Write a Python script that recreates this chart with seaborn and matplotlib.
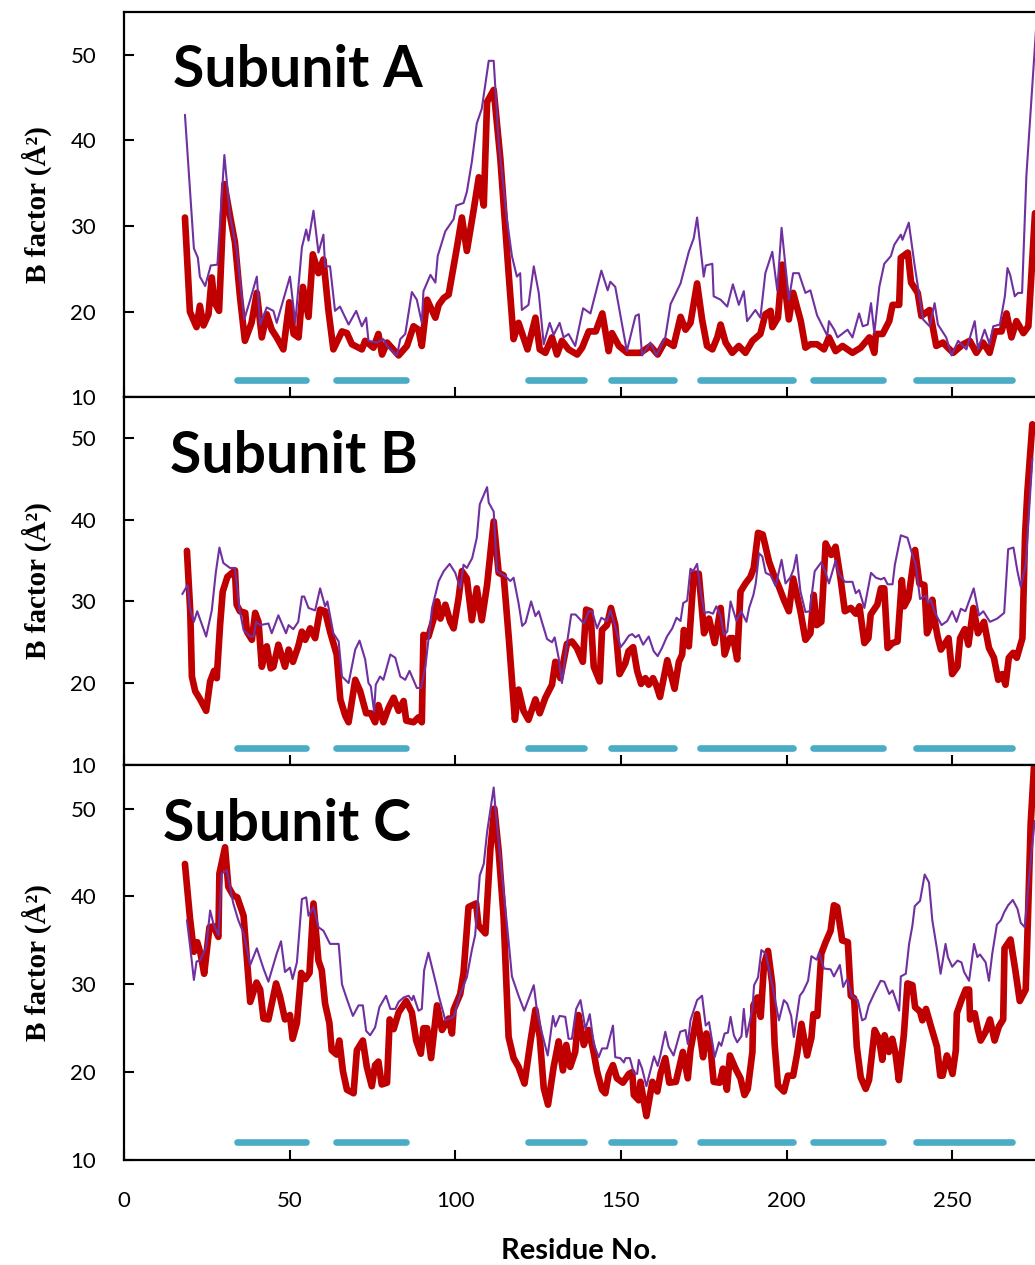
import seaborn as sns
from matplotlib import pyplot as plt

# residue numbers / B factors
# thin purple trace and thick red trace, one pair per subunit
res_a_thin = [18.4, 21.1, 22.3, 22.9, 24.5, 26.2, 28.2, 30.3, 32.0, 34.0, 36.3, 38.1, 40.1, 41.1, 43.1, 45.1, 46.1,
              48.1, 50.1, 51.7, 53.7, 55.0, 55.7, 57.2, 58.7, 60.2, 60.7, 62.2, 63.7, 65.2, 67.8, 70.1, 71.8, 73.1,
              73.8, 76.3, 78.3, 79.4, 82.4, 83.4, 84.9, 86.9, 88.4, 89.9, 90.4, 92.5, 94.0, 94.7, 97.0, 99.5, 100.3,
              102.5, 103.5, 105.0, 106.5, 108.0, 110.1, 111.6, 113.1, 115.6, 117.1, 118.6, 119.6, 120.1, 122.1,
              123.7, 125.2, 126.7, 128.5, 129.7, 131.5, 132.7, 134.2, 136.2, 138.6, 140.8, 144.1, 146.0, 146.8,
              148.3, 151.8, 154.4, 155.4, 156.4, 158.9, 160.7, 163.4, 165.0, 168.0, 170.5, 172.0, 173.0, 175.0,
              175.6, 177.6, 178.0, 180.1, 182.1, 183.8, 185.6, 187.1, 188.1, 190.6, 192.1, 193.6, 195.7, 197.2,
              198.5, 200.7, 202.0, 203.7, 205.7, 207.2, 209.2, 212.3, 212.8, 214.4, 215.4, 218.4, 219.9, 221.9,
              223.0, 224.5, 225.5, 226.5, 228.0, 229.5, 231.5, 232.5, 234.5, 235.0, 236.9, 238.7, 241.2, 243.2,
              244.7, 245.7, 248.2, 249.8, 251.8, 254.3, 256.8, 257.8, 259.8, 261.3, 262.4, 264.4, 265.9, 266.7,
              267.5, 268.9, 269.9, 271.1, 272.4, 274.4, 275.4]
b_a_thin = [43.0, 27.4, 26.3, 24.1, 23.0, 25.4, 25.5, 38.3, 31.2, 27.3, 19.1, 21.4, 24.1, 18.5, 20.5, 20.1, 18.7,
            21.4, 24.1, 18.7, 27.5, 29.6, 28.3, 31.8, 26.9, 29.0, 25.3, 25.3, 20.1, 20.6, 18.5, 20.1, 18.3, 19.3,
            16.6, 16.4, 16.8, 16.0, 14.9, 16.8, 17.4, 22.3, 21.4, 18.7, 22.4, 24.3, 23.4, 26.5, 29.4, 30.8, 32.4,
            32.7, 34.0, 37.5, 42.0, 43.7, 49.3, 49.3, 39.8, 30.8, 26.5, 24.1, 24.5, 20.2, 20.8,
            25.3, 22.2, 16.2, 18.7, 17.3, 18.7, 17.0, 17.4, 16.0, 20.4, 19.8, 24.8, 22.5, 23.5,
            22.9, 15.4, 19.5, 19.7, 14.9, 16.4, 14.9, 17.0, 20.9, 23.3, 27.0, 28.6, 31.0, 24.1,
            25.4, 25.6, 21.8, 21.4, 20.6, 23.2, 20.8, 22.4, 18.9, 20.2, 19.3, 24.5, 27.0, 22.5,
            29.8, 21.4, 24.5, 24.5, 22.2, 22.5, 19.6, 17.2, 18.9, 17.9, 17.0, 17.9, 17.0, 19.8,
            18.3, 18.5, 21.0, 17.5, 22.9, 25.6, 26.5, 27.8, 29.0, 28.4, 30.4, 25.3, 19.1, 18.3,
            21.0, 18.5, 17.0, 14.9, 16.6, 15.6, 18.9, 15.6, 17.9, 16.2, 18.3, 18.5, 21.8, 25.1,
            24.3, 21.8, 22.2, 22.2, 35.9, 47.6, 53.5]

res_a_thick = [18.4, 19.9, 21.9, 22.9, 24.0, 25.5, 26.5, 27.3, 28.7, 30.3, 32.0, 33.5, 35.0, 36.5, 38.5, 40.1, 41.6,
               43.1, 44.6, 46.1, 48.1, 49.9, 51.2, 52.7, 54.0, 55.7, 57.0, 58.7, 60.2, 61.7, 63.2, 65.8, 67.3, 68.8,
               71.8, 72.8, 75.3, 76.8, 77.9, 79.4, 82.9, 85.4, 87.4, 88.9, 89.9, 91.5, 94.0, 95.0, 96.5, 98.0, 99.5,
               100.5, 102.0, 103.5, 105.6, 107.1, 108.6, 109.6, 111.6, 113.6, 116.1, 117.6, 119.1, 120.6, 121.8,
               124.2, 125.5, 127.2, 129.2, 130.7, 132.2, 134.2, 136.8, 138.3, 140.3, 142.4, 144.4, 146.3, 147.3,
               149.4, 151.9, 155.9, 158.9, 161.1, 163.4, 165.9, 168.0, 169.5, 171.0, 173.0, 174.5, 176.0, 177.6,
               179.1, 180.1, 181.6, 183.6, 185.6, 187.6, 189.7, 192.1, 193.6, 195.2, 195.7, 197.4, 198.7, 200.7,
               202.0, 204.3, 205.7, 207.2, 209.2, 211.3, 212.8, 214.8, 216.9, 219.9, 222.4, 225.0, 226.5, 227.0,
               229.0, 231.0, 232.0, 234.0, 234.5, 236.6, 237.6, 239.6, 240.7, 243.2, 245.2, 247.2, 248.7, 250.3,
               253.3, 255.3, 257.3, 259.3, 261.3, 262.9, 264.9, 266.4, 267.9, 269.4, 271.5, 273.0, 275.0]
b_a_thick = [31.0, 20.0, 18.2, 20.7, 18.4, 19.7, 24.0, 21.1, 20.1, 34.9, 31.2, 28.1, 21.8, 16.6, 18.7, 22.2, 17.0,
             19.7, 17.9, 17.0, 15.6, 21.1, 17.4, 17.0, 22.9, 19.4, 26.7, 24.5, 26.1, 20.2, 15.6, 17.7, 17.5, 16.2,
             15.6, 16.6, 15.8, 17.4, 15.0, 16.4, 14.9, 16.0, 18.3, 17.9, 16.0, 21.4, 19.3, 20.8, 21.6, 22.0, 25.3,
             27.5, 31.0, 27.1, 32.0, 35.7, 32.4, 44.5, 45.9, 37.9, 24.5, 16.8, 18.7, 17.0, 15.6,
             19.3, 15.6, 15.2, 17.0, 15.0, 16.6, 15.6, 15.0, 15.8, 17.7, 17.7, 19.8, 15.4, 17.5,
             16.0, 15.2, 15.2, 16.0, 15.0, 16.6, 16.0, 19.4, 17.9, 18.7, 23.3, 19.1, 16.0, 15.6,
             17.0, 18.5, 16.4, 15.2, 16.0, 15.2, 16.6, 17.4, 19.7, 20.1, 18.2, 19.3, 25.5, 19.1,
             22.2, 18.9, 15.8, 16.2, 16.2, 15.6, 17.0, 15.4, 16.0, 15.2, 15.8, 17.0, 15.2, 17.4,
             17.4, 18.9, 20.8, 20.8, 26.3, 26.9, 23.4, 22.2, 19.5, 20.2, 16.0, 16.4, 15.8, 15.2,
             16.2, 16.6, 15.2, 16.4, 15.2, 17.7, 17.7, 19.8, 17.0, 18.9, 17.5, 18.3, 31.5]

res_b_thin = [17.6, 19.2, 19.9, 21.1, 22.1, 24.8, 26.5, 27.7, 28.8, 30.0, 32.0, 33.5, 34.8, 36.1, 38.1, 39.1, 39.9,
              41.1, 43.6, 44.6, 46.6, 48.9, 49.7, 51.1, 52.6, 53.7, 54.4, 55.7, 57.7, 59.2, 60.7, 61.4, 63.2, 64.8,
              65.8, 67.8, 69.8, 71.1, 72.8, 73.8, 74.5, 75.5, 76.0, 77.3, 78.3, 80.4, 81.9, 83.4, 84.9, 86.2, 88.4,
              89.7, 91.0, 93.0, 95.0, 96.5, 98.3, 100.0, 101.5, 102.5, 103.5, 105.1, 106.5, 107.4, 109.6, 110.1,
              111.6, 112.6, 115.1, 116.6, 117.6, 119.1, 120.2, 121.2, 122.9, 124.2, 125.2, 127.7, 129.2, 130.0,
              131.2, 132.2, 133.7, 135.0, 136.3, 138.8, 140.3, 141.3, 142.8, 144.1, 145.8, 146.8, 148.3, 149.9,
              150.9, 152.4, 153.4, 154.4, 155.4, 156.7, 158.4, 159.9, 161.1, 162.4, 163.9, 165.5, 166.8, 168.0,
              168.8, 170.0, 171.0, 171.8, 173.0, 174.0, 175.2, 176.5, 177.8, 178.8, 180.1, 181.1, 182.1, 183.1,
              184.9, 186.3, 187.9, 188.7, 190.0, 190.7, 191.7, 192.7, 193.7, 195.2, 196.7, 197.7, 198.5, 199.7,
              201.1, 202.1, 203.0, 204.2, 205.7, 207.0, 208.5, 210.5, 211.8, 212.8, 214.8, 215.8, 217.6, 219.9,
              220.9, 221.9, 223.5, 225.5, 227.0, 228.5, 229.5, 230.5, 232.0, 232.7, 234.5, 236.5, 238.0, 239.0,
              240.3, 242.1, 242.7, 243.5, 244.8, 246.8, 248.5, 250.0, 251.3, 252.6, 254.0, 256.5, 258.1, 259.4,
              261.4, 263.6, 265.7, 266.9, 268.5, 269.7, 270.7, 272.2, 274.2]
b_b_thin = [30.9, 32.0, 29.2, 27.5, 28.8, 25.7, 28.9, 33.5, 36.6, 34.7, 34.1, 34.1, 29.2, 26.5, 25.7, 25.7, 27.5,
            27.1, 27.3, 26.1, 28.3, 26.1, 27.1, 26.6, 27.5, 30.6, 30.6, 29.2, 28.9, 31.6, 29.4, 30.0, 26.1, 25.1,
            20.8, 20.0, 24.1, 25.2, 22.9, 20.0, 19.6, 16.5, 19.8, 20.8, 20.4, 23.5, 23.1, 20.8, 20.4, 21.5, 19.4,
            19.4, 22.1, 29.2, 32.5, 33.7, 34.6, 33.5, 31.6, 34.5, 34.1, 35.3, 37.8, 41.9, 44.0, 42.1,
            41.0, 33.7, 33.1, 32.5, 32.9, 29.8, 27.0, 27.4, 30.0, 28.2, 28.8, 25.4, 25.0, 25.6,
            23.1, 20.0, 24.8, 28.4, 28.4, 27.3, 28.8, 28.8, 26.7, 28.0, 27.6, 28.9, 26.9, 24.4,
            24.9, 25.8, 26.0, 25.6, 25.9, 24.7, 25.7, 23.9, 23.3, 24.3, 25.7, 26.7, 28.0, 27.6,
            29.8, 30.1, 34.0, 33.7, 34.6, 31.4, 28.6, 28.7, 28.5, 29.4, 28.2, 25.9, 26.3, 30.0,
            27.6, 28.8, 27.5, 29.2, 30.8, 32.2, 35.9, 35.5, 33.5, 33.2, 31.9, 33.7, 35.1, 32.2,
            32.9, 33.9, 35.7, 31.2, 28.7, 28.8, 33.7, 34.8, 33.5, 32.2, 35.0, 33.4, 32.4, 32.4,
            31.0, 31.4, 29.2, 33.5, 32.9, 32.7, 32.9, 32.1, 32.1, 34.5, 38.1, 37.8, 35.7, 34.5,
            30.3, 30.7, 29.8, 30.2, 28.6, 27.1, 27.6, 28.8, 27.5, 29.1, 28.8, 31.6, 28.3, 28.8,
            27.5, 27.9, 28.6, 36.4, 36.6, 33.7, 31.8, 34.5, 47.5]

res_b_thick = [19.0, 20.0, 20.5, 21.5, 23.0, 24.8, 26.0, 27.2, 28.0, 29.0, 29.8, 31.2, 33.5, 34.0, 35.0, 36.6, 37.1,
               38.6, 39.6, 40.6, 41.6, 43.1, 44.3, 45.1, 46.6, 48.6, 49.7, 51.0, 52.6, 53.7, 54.7, 56.2, 57.7, 59.2,
               60.7, 62.2, 64.2, 65.3, 66.8, 67.8, 69.8, 71.3, 73.1, 74.5, 75.8, 76.8, 78.3, 79.9, 81.4, 82.9, 84.4,
               85.2, 87.4, 88.9, 89.9, 90.4, 91.9, 93.5, 94.5, 95.5, 97.0, 98.5, 99.5, 101.0, 102.0, 103.5, 105.0,
               106.5, 108.0, 109.6, 111.6, 113.1, 114.6, 116.2, 118.0, 119.1, 120.6, 122.1, 124.2, 125.5, 127.2,
               129.2, 130.2, 131.7, 133.7, 135.2, 136.7, 138.5, 139.5, 140.8, 141.8, 143.6, 144.3, 145.8, 147.0,
               148.3, 149.6, 151.3, 152.3, 153.7, 154.9, 156.1, 157.4, 158.4, 159.7, 160.7, 161.8, 164.0, 166.2,
               167.5, 168.5, 169.0, 170.5, 172.0, 173.5, 175.1, 176.6, 178.3, 180.1, 181.3, 182.9, 183.9, 185.1,
               186.1, 187.6, 189.1, 190.1, 191.4, 192.8, 194.7, 196.2, 197.7, 199.2, 200.7, 202.0, 204.2, 205.7,
               207.2, 208.2, 209.1, 210.5, 211.8, 213.5, 214.8, 216.3, 217.6, 219.4, 220.9, 222.0, 223.5, 224.7,
               225.4, 227.4, 228.5, 229.5, 230.5, 232.0, 233.5, 234.8, 235.5, 236.8, 237.6, 238.8, 240.1, 241.6,
               242.4, 243.4, 244.0, 244.6, 245.6, 246.6, 247.6, 248.9, 250.0, 251.6, 252.4, 253.8, 254.9, 256.4,
               257.8, 259.6, 261.1, 262.6, 263.9, 265.1, 266.1, 267.1, 268.4, 269.5, 271.2, 272.0, 272.7, 274.2]
b_b_thick = [36.2, 28.8, 20.8, 19.0, 18.0, 16.6, 20.2, 21.5, 20.6, 27.1, 31.2, 33.0, 33.8, 29.6, 28.8, 28.6, 26.3,
             25.3, 28.6, 27.5, 22.0, 24.5, 21.8, 22.0, 24.7, 22.0, 24.1, 22.6, 24.5, 26.3, 25.3, 26.7, 25.5, 29.0,
             28.8, 26.3, 23.5, 18.0, 16.0, 15.2, 20.4, 19.0, 16.3, 16.3, 15.2, 17.3, 15.2, 17.0, 18.2, 16.6, 17.8,
             15.4, 15.2, 15.8, 15.2, 25.9, 25.7, 27.9, 30.0, 27.9, 29.6, 27.5, 26.7, 30.4, 33.7, 32.8, 27.7,
             31.6, 27.7, 32.0, 39.8, 33.5, 33.2, 25.3, 15.5, 19.2, 16.6, 15.5, 18.0, 16.3, 18.2,
             19.8, 22.6, 20.6, 24.8, 25.1, 24.3, 22.6, 29.0, 28.8, 22.0, 20.2, 26.5, 27.1, 29.2,
             27.1, 21.1, 22.4, 23.9, 24.4, 21.5, 19.9, 20.6, 19.8, 20.6, 19.7, 18.3, 22.8, 19.3,
             22.6, 23.5, 26.5, 24.5, 33.4, 33.4, 26.1, 27.9, 24.9, 29.2, 23.5, 25.5, 25.5, 22.9,
             31.2, 32.2, 33.0, 34.1, 38.4, 38.2, 34.9, 33.2, 31.8, 30.2, 28.8, 32.8, 28.8, 25.3,
             26.1, 30.8, 27.1, 27.5, 37.1, 35.7, 36.7, 32.8, 28.8, 29.2, 28.5, 29.4, 24.9, 25.5,
             28.4, 29.6, 31.6, 31.6, 24.3, 24.9, 25.1, 32.6, 29.4, 30.4, 32.8, 36.3, 32.2, 32.0,
             26.1, 27.1, 30.2, 28.0, 25.7, 24.1, 24.7, 25.5, 21.1, 22.0, 25.5, 26.6, 24.7, 29.2,
             26.1, 27.5, 24.3, 23.1, 20.4, 21.1, 19.8, 23.1, 23.7, 23.1, 25.5, 38.1, 43.4, 51.7]

res_c_thin = [19.0, 20.0, 21.1, 21.9, 22.9, 24.8, 26.0, 27.0, 28.5, 29.5, 31.0, 33.0, 34.5, 36.1, 38.1, 40.1, 42.1,
              43.6, 46.1, 47.4, 48.6, 50.1, 50.9, 52.2, 53.7, 55.0, 55.7, 57.2, 58.7, 60.2, 62.2, 64.8, 65.8, 67.3,
              69.1, 70.8, 72.1, 73.1, 74.3, 75.8, 77.1, 79.1, 80.4, 81.9, 82.9, 84.4, 85.9, 86.9, 87.4, 88.9, 89.9,
              90.6, 91.9, 94.3, 95.0, 97.0, 99.5, 101.5, 103.5, 105.0, 106.0, 107.4, 108.6, 109.6, 111.6, 112.1,
              114.1, 116.1, 117.1, 119.1, 120.8, 123.7, 124.7, 126.2, 127.9, 129.5, 130.2, 131.5, 133.2, 134.2,
              135.2, 136.5, 137.8, 139.3, 140.6, 141.8, 143.3, 144.3, 145.8, 147.6, 148.3, 149.8, 150.9, 151.4,
              152.7, 153.9, 154.9, 155.4, 156.4, 157.7, 160.0, 161.1, 161.9, 163.4, 164.4, 165.9, 167.9, 169.5,
              170.2, 171.0, 173.0, 174.5, 175.6, 176.6, 178.3, 179.6, 180.3, 181.3, 182.3, 183.1, 184.1, 185.1,
              186.4, 187.1, 187.9, 189.7, 190.2, 191.4, 192.4, 193.7, 195.0, 196.2, 197.7, 199.2, 200.2, 201.4,
              202.2, 204.0, 205.0, 206.5, 207.5, 209.1, 209.8, 211.3, 213.3, 214.3, 216.1, 217.1, 218.3, 219.8,
              221.5, 222.8, 223.8, 224.8, 226.4, 228.4, 229.5, 231.0, 232.0, 233.0, 234.0, 234.5, 236.0, 237.0,
              238.0, 238.7, 240.3, 241.7, 243.0, 244.0, 245.5, 246.5, 248.0, 248.7, 250.0, 251.6, 252.8, 253.6,
              255.1, 256.6, 257.6, 258.4, 260.1, 261.1, 262.1, 263.5, 264.7, 265.7, 266.9, 268.3, 269.7, 270.7,
              271.9, 273.7, 274.9]
b_c_thin = [37.3, 34.2, 30.5, 32.6, 32.7, 34.2, 38.4, 36.9, 35.6, 42.6, 43.0, 39.2, 37.3, 35.8, 32.2, 34.1, 31.8,
            30.3, 33.5, 34.9, 31.4, 31.9, 30.6, 32.5, 39.7, 39.9, 37.8, 38.8, 36.5, 36.1, 34.6, 34.6, 30.0, 28.3,
            26.4, 27.6, 27.6, 24.7, 24.2, 25.1, 27.4, 28.7, 27.2, 27.2, 28.0, 28.5, 28.7, 28.2, 28.7, 27.0, 27.2,
            31.6, 33.6, 29.9, 28.7, 25.9, 26.3, 28.9, 30.8, 33.9, 35.6, 42.4, 43.7, 47.3, 52.4, 50.1,
            42.5, 34.9, 30.9, 28.7, 27.0, 29.9, 26.9, 24.4, 21.9, 26.4, 25.2, 26.4, 26.3, 23.8,
            23.8, 27.2, 28.2, 24.9, 26.6, 23.2, 21.7, 22.7, 22.7, 25.3, 21.7, 21.6, 21.1, 21.6,
            21.6, 19.9, 19.8, 21.4, 20.4, 18.4, 21.8, 20.7, 21.9, 24.6, 22.9, 21.9, 24.6, 24.8,
            23.2, 25.9, 28.2, 28.7, 25.3, 25.7, 21.7, 23.4, 23.0, 24.4, 24.5, 26.3, 24.2, 23.4,
            24.1, 27.2, 24.0, 27.2, 29.9, 30.8, 33.9, 33.5, 31.2, 28.9, 25.9, 28.2, 27.8, 26.4,
            24.0, 28.7, 29.2, 30.4, 33.2, 32.8, 33.6, 31.8, 31.7, 30.9, 32.2, 29.7, 30.6, 28.6,
            28.2, 25.9, 26.1, 27.6, 28.9, 30.4, 30.3, 28.9, 29.3, 28.2, 27.0, 30.9, 31.2, 34.6,
            36.7, 38.9, 39.5, 42.5, 41.6, 37.3, 33.8, 31.2, 34.6, 33.1, 32.0, 32.7, 32.5, 31.4,
            30.4, 34.6, 33.1, 33.4, 32.5, 30.4, 33.5, 36.8, 37.3, 38.2, 39.0, 39.6, 38.6, 37.0,
            36.5, 44.1, 48.6]

res_c_thick = [18.4, 19.9, 21.1, 22.1, 23.1, 24.2, 25.8, 27.0, 28.5, 28.8, 30.5, 31.5, 33.0, 34.2, 36.1, 38.1, 40.0,
               41.1, 42.1, 43.6, 45.9, 47.1, 48.6, 50.1, 50.9, 52.2, 53.5, 54.7, 56.0, 57.2, 58.7, 59.7, 60.7, 62.0,
               62.7, 64.2, 65.0, 66.1, 67.3, 69.3, 70.3, 72.1, 73.3, 74.8, 75.8, 76.8, 77.8, 79.4, 80.2, 81.4, 82.9,
               85.2, 86.9, 88.2, 89.6, 90.4, 91.5, 92.7, 94.5, 96.0, 98.0, 99.0, 99.5, 101.5, 102.5, 104.0, 106.3,
               107.0, 109.1, 110.6, 111.8, 113.1, 114.6, 116.1, 117.6, 119.1, 120.9, 122.7, 124.2, 125.5, 126.7,
               128.0, 129.7, 131.2, 132.5, 133.5, 134.7, 136.2, 137.2, 138.8, 140.3, 141.8, 142.8, 144.3, 145.3,
               146.3, 147.6, 148.8, 150.6, 152.4, 153.4, 153.9, 155.4, 155.9, 157.7, 159.5, 161.0, 162.0, 163.4,
               164.6, 166.6, 168.7, 170.2, 171.0, 173.0, 174.8, 175.8, 177.0, 178.0, 179.8, 180.8, 182.0, 182.9,
               184.6, 186.1, 187.3, 188.3, 189.7, 190.0, 191.2, 192.2, 193.2, 194.4, 195.7, 196.4, 197.4, 199.2,
               200.4, 202.0, 203.2, 204.5, 206.2, 207.5, 208.1, 209.3, 210.5, 211.8, 213.3, 214.3, 215.3, 216.8,
               218.5, 219.4, 220.4, 221.2, 222.4, 223.9, 224.9, 226.6, 227.9, 228.9, 229.6, 230.9, 231.9, 232.9,
               233.9, 235.4, 236.5, 238.0, 238.8, 240.3, 241.0, 242.1, 243.6, 245.4, 246.4, 247.1, 248.4, 249.1,
               250.1, 251.1, 251.4, 252.8, 254.1, 255.1, 255.4, 256.8, 257.8, 258.6, 260.1, 261.4, 262.8, 264.1,
               265.4, 265.8, 267.6, 269.1, 270.4, 272.2, 272.7, 273.7, 274.7]
b_c_thick = [43.7, 37.6, 33.7, 34.8, 33.5, 31.2, 36.5, 36.6, 35.4, 42.6, 45.6, 41.1, 40.1, 39.9, 37.8, 28.0, 30.2,
             29.4, 26.1, 26.0, 30.1, 28.6, 26.0, 26.5, 23.8, 25.6, 31.3, 30.6, 31.3, 39.2, 32.7, 31.6, 27.8, 25.6,
             22.5, 22.0, 23.6, 20.1, 18.0, 17.6, 22.5, 23.6, 20.6, 18.4, 20.8, 21.2, 18.6, 18.8, 26.0, 24.9, 26.8,
             28.1, 26.8, 23.6, 22.1, 25.0, 25.0, 21.6, 27.6, 24.8, 26.1, 24.4, 27.1, 28.9, 31.3, 38.8, 39.2,
             36.7, 35.8, 45.4, 50.0, 45.2, 37.6, 24.0, 21.6, 20.6, 18.7, 23.5, 27.1, 24.0, 18.2,
             16.3, 20.6, 23.5, 20.2, 23.1, 20.6, 22.3, 26.5, 23.1, 24.8, 22.2, 20.1, 18.0, 17.6,
             19.7, 20.8, 19.3, 18.8, 19.8, 20.0, 17.4, 16.8, 18.9, 15.0, 18.9, 17.8, 19.9, 21.6,
             18.8, 18.9, 22.3, 19.3, 22.5, 26.6, 21.7, 24.4, 22.9, 18.9, 18.8, 20.4, 18.0, 21.9,
             20.4, 19.3, 17.4, 18.1, 22.3, 27.6, 28.5, 26.3, 32.3, 33.8, 30.0, 23.2, 18.5, 17.8,
             19.6, 19.6, 22.1, 25.5, 21.9, 23.9, 26.6, 26.4, 33.5, 34.8, 36.1, 39.0, 38.8, 35.0,
             34.8, 28.7, 28.4, 22.9, 19.4, 18.1, 19.1, 24.8, 23.8, 21.4, 24.2, 22.3, 23.8, 22.1,
             19.1, 24.2, 30.1, 29.9, 27.4, 26.9, 25.9, 27.2, 25.2, 22.9, 19.6, 19.6, 21.9, 21.1,
             19.8, 22.5, 26.7, 28.2, 29.4, 29.4, 26.0, 26.7, 24.8, 23.6, 24.6, 26.0, 23.6, 25.2,
             26.0, 34.1, 35.1, 31.5, 28.1, 29.4, 35.4, 48.3, 54.8]

# cyan strand segments under each trace
strand_start = [34, 64, 122, 147, 174, 208, 239]
strand_end = [55, 85, 139, 166, 202, 229, 268]
strand_level = 12

subunits = ['Subunit A', 'Subunit B', 'Subunit C']
x_ticks = [0, 50, 100, 150, 200, 250]
y_ticks = [10, 20, 30, 40, 50]

RED = '#C00000'
PURPLE = '#7030A0'
CYAN = '#4BACC6'


def draw_panel(ax, res_thin, b_thin, res_thick, b_thick, title, title_pos):
    sns.lineplot(x=res_thick, y=b_thick, ax=ax, color=RED, linewidth=4.8, sort=False, estimator=None)
    sns.lineplot(x=res_thin, y=b_thin, ax=ax, color=PURPLE, linewidth=1.5, sort=False, estimator=None)
    ax.hlines([strand_level] * len(strand_start), strand_start, strand_end, colors=CYAN,
              linewidth=4.8, capstyle='round')

    ax.set_xlim(0, 275)
    ax.set_ylim(10, 55)
    ax.set_xticks(x_ticks)
    ax.set_yticks(y_ticks)
    ax.tick_params(axis='both', direction='in', length=7, width=1.5, labelsize=16,
                   color='black', labelcolor='black')
    ax.tick_params(axis='y', pad=20)
    ax.tick_params(axis='x', pad=22)
    for side in ['top', 'bottom', 'left']:
        ax.spines[side].set_linewidth(1.6)
        ax.spines[side].set_color('black')
    ax.spines['right'].set_visible(False)

    ax.set_ylabel('B factor (Å²)', fontsize=21, fontweight='bold', family='Liberation Serif',
                  color='black')
    ax.yaxis.set_label_coords(-0.079, 0.5)
    ax.text(title_pos[0], title_pos[1], title, transform=ax.transAxes, fontsize=41,
            fontweight='bold', va='baseline', color='black')


sns.set_style('ticks')
plt.rcParams['font.family'] = ['Lato', 'DejaVu Sans']

fig = plt.figure(figsize=(10.35, 12.65), dpi=100)
gs = fig.add_gridspec(3, 1, height_ratios=[386, 368, 396], left=0.1198, right=1.0,
                      top=0.9905, bottom=0.083, hspace=0)
axes = [fig.add_subplot(gs[i]) for i in range(3)]

draw_panel(axes[0], res_a_thin, b_a_thin, res_a_thick, b_a_thick, subunits[0], (0.054, 0.806))
draw_panel(axes[1], res_b_thin, b_b_thin, res_b_thick, b_b_thick, subunits[1], (0.050, 0.793))
draw_panel(axes[2], res_c_thin, b_c_thin, res_c_thick, b_c_thick, subunits[2], (0.043, 0.808))

axes[0].tick_params(axis='x', labelbottom=False)
axes[1].tick_params(axis='x', labelbottom=False)
axes[2].set_xlabel('Residue No.', fontsize=21, fontweight='bold', color='black')
axes[2].xaxis.set_label_coords(0.5, -0.197)

fig.savefig('out.png', dpi=100)
